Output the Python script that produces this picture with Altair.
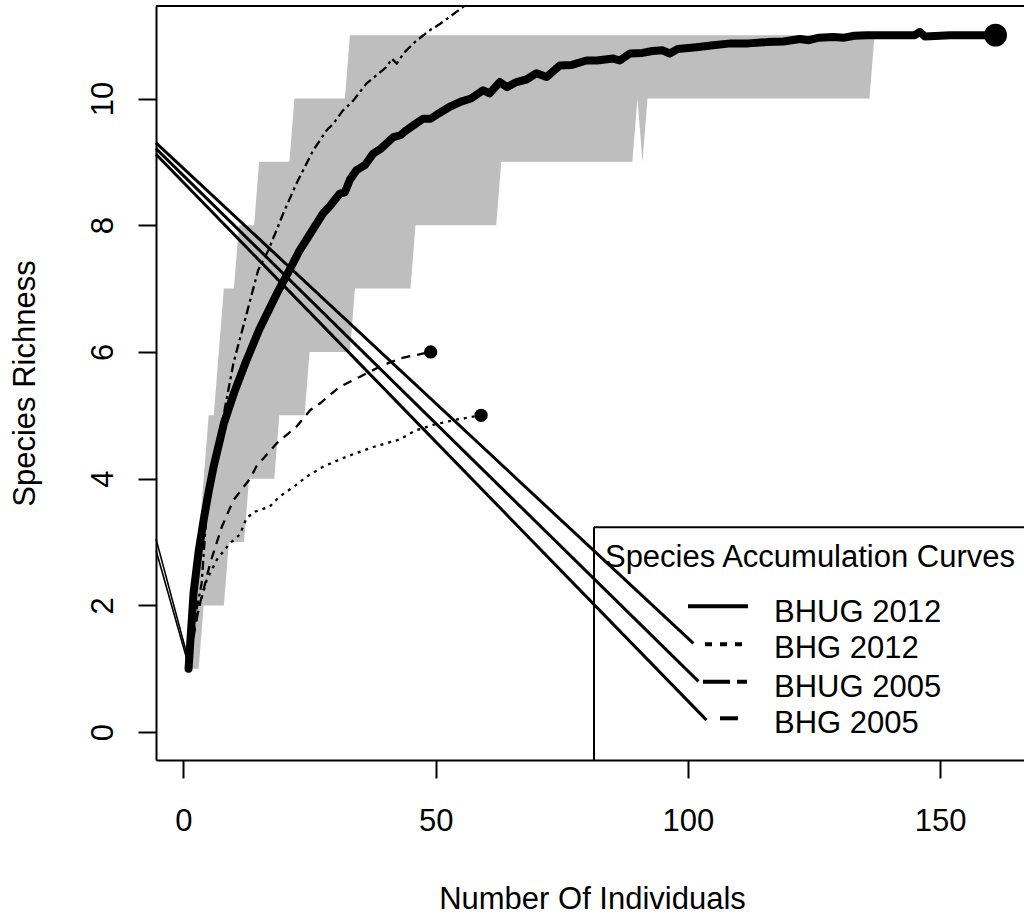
import altair as alt
import pandas as pd

FONT = "Liberation Sans"
FS = 31

# ---------------- data ----------------
series_names = ["BHUG 2012", "BHG 2012", "BHUG 2005", "BHG 2005"]
legend_title = "Species Accumulation Curves"
x_title = "Number Of Individuals"
y_title = "Species Richness"
x_ticks = [0, 50, 100, 150]
y_ticks = [0, 2, 4, 6, 8, 10]

# BHUG 2012 (thick solid) mean accumulation
bhug12_x = [1, 2, 3, 4, 5, 6, 8, 10, 12.5, 15, 18.5, 21, 23, 25, 27.7, 29, 31, 32, 33, 34.3,
            36, 37.6, 39, 41.6, 43, 44.2, 46, 47.5, 49, 50.5, 52.8, 55, 57, 59.4, 60.7, 62.7,
            64.1, 66, 68, 70, 72, 74.6, 77, 79.9, 82, 85.2, 86.5, 88.5, 91, 93, 95, 96.4, 98,
            101.7, 105, 108.5, 112, 115.6, 119, 122.2, 124, 126, 128.8, 131, 133, 135.4, 140,
            145, 146, 147, 152, 161]
bhug12_y = [1, 2.2, 2.85, 3.35, 3.8, 4.2, 4.87, 5.35, 5.87, 6.35, 6.92, 7.29, 7.6, 7.85, 8.19,
            8.3, 8.5, 8.52, 8.72, 8.87, 8.95, 9.13, 9.2, 9.39, 9.42, 9.5, 9.6, 9.68, 9.68, 9.76,
            9.87, 9.95, 10.0, 10.13, 10.08, 10.26, 10.18, 10.26, 10.3, 10.4, 10.34, 10.52, 10.53,
            10.6, 10.6, 10.63, 10.6, 10.71, 10.72, 10.75, 10.76, 10.71, 10.78, 10.81, 10.84,
            10.87, 10.87, 10.89, 10.9, 10.94, 10.92, 10.96, 10.97, 10.96, 10.99, 11.0, 11.0,
            11.0, 11.05, 10.98, 11.0, 11.0]

# BHG 2012 (dotted)
bhg12_x = [1, 2, 3.3, 4.6, 6.6, 9.2, 11.2, 12.5, 14.2, 17.1, 19.1, 21.8, 24.4, 27.7, 32.4,
           37.6, 42.9, 46, 50, 54, 59]
bhg12_y = [1, 1.6, 2.03, 2.4, 2.72, 2.98, 3.12, 3.38, 3.48, 3.56, 3.72, 3.87, 4.03, 4.19,
           4.35, 4.5, 4.62, 4.76, 4.86, 4.93, 5.0]

# BHUG 2005 (two-dash)
bhug05_x = [1, 2, 3, 3.6, 4.6, 5.9, 7.9, 9.9, 11.9, 14.8, 16.8, 19.8, 22.4, 25.7, 28.4, 29.7,
            31.5, 33.7, 36.3, 38, 40.3, 41.3, 42.3, 43.6, 44.2, 46, 48.9, 50.9, 52.8, 55.5,
            58, 61]
bhug05_y = [1, 1.7, 2.1, 2.35, 3.5, 4.24, 4.98, 5.82, 6.42, 7.29, 7.6, 8.19, 8.66, 9.18, 9.5,
            9.6, 9.8, 9.97, 10.24, 10.35, 10.5, 10.63, 10.55, 10.71, 10.76, 10.9, 11.08, 11.18,
            11.29, 11.45, 11.62, 11.8]

# BHG 2005 (dashed)
bhg05_x = [1, 2, 3, 4.3, 5.3, 7.6, 9.9, 13.2, 14.5, 18.5, 22.4, 25.1, 27.1, 31, 35, 39, 43,
           46, 49]
bhg05_y = [1, 1.5, 1.95, 2.35, 2.67, 3.24, 3.66, 4.0, 4.2, 4.56, 4.82, 5.08, 5.19, 5.45,
           5.61, 5.77, 5.9, 5.95, 6.0]

# grey envelope for BHUG 2012
band_x = [1, 2, 3, 4, 5, 6, 7, 8, 9, 10, 11, 12, 13, 14, 15, 18, 19, 21, 22, 24, 25, 32, 33,
          34, 45, 46, 62, 63, 89, 90, 91, 92, 136, 137]
band_upper = [1, 2, 3, 4, 5, 5, 6, 7, 7, 7, 8, 8, 8, 8, 9, 9, 9, 9, 10, 10, 10, 10, 11,
              11, 11, 11, 11, 11, 11, 11, 11, 11, 11, 11]
band_lower = [1, 1, 1, 2, 2, 2, 2, 2, 3, 3, 3, 3, 4, 4, 4, 4, 5, 5, 5, 5, 6, 6, 6,
              7, 7, 8, 8, 9, 9, 10, 9, 10, 10, 11]

# end points of the curves (with markers)
end_x = [161, 59, 49]
end_y = [11, 5, 6]
end_size = [520, 177, 177]

# straight stray segments (data units)
diag_x0 = [-5.45, -5.45, -5.45]
diag_y0 = [9.30, 9.21, 9.12]
diag_x1 = [101.1, 102.1, 103.7]
diag_y1 = [1.40, 0.80, 0.19]
short_x0 = [-5.45, -5.45]
short_y0 = [3.05, 2.87]
short_x1 = [0.6, 0.85]
short_y1 = [1.25, 1.1]

# ---------------- chart ----------------
W, H = 868, 754
xs = alt.Scale(domain=[-5.45, 166.64], nice=False, zero=False)
ys = alt.Scale(domain=[-0.44, 11.46], nice=False, zero=False)

x_axis = alt.Axis(values=x_ticks, grid=False, tickSize=18, tickWidth=2, tickColor="black",
                  domainColor="black", domainWidth=2, labelFont=FONT, labelFontSize=FS,
                  labelColor="black", labelPadding=52, labelBaseline="alphabetic",
                  labelFlush=False, labelOverlap=False,
                  title=x_title, titleFont=FONT, titleFontSize=FS, titleFontWeight="normal",
                  titleColor="black", titleX=436, titleY=148, titleBaseline="alphabetic",
                  titleAlign="center")
y_axis = alt.Axis(values=y_ticks, grid=False, tickSize=18, tickWidth=2, tickColor="black",
                  domainColor="black", domainWidth=2, labelFont=FONT, labelFontSize=FS,
                  labelColor="black", labelPadding=26, labelAngle=270, labelAlign="center",
                  labelBaseline="alphabetic", labelFlush=False, labelOverlap=False,
                  title=y_title, titleFont=FONT, titleFontSize=FS, titleFontWeight="normal",
                  titleColor="black", titleX=-122, titleY=377, titleAngle=270,
                  titleBaseline="alphabetic", titleAlign="center")

def X(f):
    return alt.X(f, scale=xs, axis=x_axis)

def Y(f):
    return alt.Y(f, scale=ys, axis=y_axis)

band_df = pd.DataFrame({"x": band_x, "upper": band_upper, "lower": band_lower})
band = alt.Chart(band_df).mark_area(color="#BEBEBE", opacity=1, clip=True).encode(
    x=X("x:Q"), y=Y("upper:Q"), y2="lower:Q")

def seg_layer(x0, y0, x1, y1, width):
    df = pd.DataFrame({"x0": x0, "y0": y0, "x1": x1, "y1": y1})
    return alt.Chart(df).mark_rule(color="black", strokeWidth=width).encode(
        x=X("x0:Q"), y=Y("y0:Q"), x2="x1:Q", y2="y1:Q")

diag = seg_layer(diag_x0, diag_y0, diag_x1, diag_y1, 3)
short = seg_layer(short_x0, short_y0, short_x1, short_y1, 1.6)

def curve(xv, yv, width, dash=None):
    df = pd.DataFrame({"x": xv, "y": yv})
    kw = dict(color="black", strokeWidth=width, clip=True, strokeJoin="round", strokeCap="butt")
    if dash is not None:
        kw["strokeDash"] = dash
    else:
        kw["strokeCap"] = "round"
    return alt.Chart(df).mark_line(**kw).encode(x=X("x:Q"), y=Y("y:Q"))

c_bhg12 = curve(bhg12_x, bhg12_y, 2.3, [3, 5])
c_bhg05 = curve(bhg05_x, bhg05_y, 2.3, [9, 7])
c_bhug05 = curve(bhug05_x, bhug05_y, 2.3, [9, 4, 3, 4])
c_bhug12 = curve(bhug12_x, bhug12_y, 8)

ends_df = pd.DataFrame({"x": end_x, "y": end_y, "s": end_size})
ends = alt.Chart(ends_df).mark_point(filled=True, shape="circle", color="black", opacity=1).encode(
    x=X("x:Q"), y=Y("y:Q"), size=alt.Size("s:Q", scale=None, legend=None))

# ---- frame top + legend (pixel layout) ----
one = pd.DataFrame({"a": [0]})
top_border = alt.Chart(one).mark_rule(color="black", strokeWidth=2).encode(
    x=alt.value(0), x2=alt.value(W), y=alt.value(0))
lg_top = alt.Chart(one).mark_rule(color="black", strokeWidth=2).encode(
    x=alt.value(438), x2=alt.value(W), y=alt.value(521.3))
lg_left = alt.Chart(one).mark_rule(color="black", strokeWidth=2).encode(
    x=alt.value(438), y=alt.value(521.3), y2=alt.value(H))

def key(x0, x1, y, dash=None):
    kw = dict(color="black", strokeWidth=4)
    if dash is not None:
        kw["strokeDash"] = dash
    return alt.Chart(one).mark_rule(**kw).encode(x=alt.value(x0), x2=alt.value(x1), y=alt.value(y))

k1 = key(532, 592, 600.3)
k2 = key(549, 589, 638.3, [7, 8])
k3 = key(547, 591, 675.7, [27, 7, 10, 10])
k4 = key(564, 582, 712.3)

lg_df = pd.DataFrame({"name": series_names, "ty": [615.7, 652.3, 690.7, 727.3]})
lg_text = alt.Chart(lg_df).mark_text(align="left", baseline="alphabetic", font=FONT,
                                     fontSize=FS, color="black").encode(
    x=alt.value(618), y=alt.Y("ty:Q", scale=None), text="name:N")
lg_title = alt.Chart(pd.DataFrame({"t": [legend_title]})).mark_text(
    align="center", baseline="alphabetic", font=FONT, fontSize=FS, color="black").encode(
    x=alt.value(654), y=alt.value(560.7), text="t:N")

chart = alt.layer(
    band, diag, short, c_bhg12, c_bhg05, c_bhug05, c_bhug12, ends,
    top_border, lg_top, lg_left, k1, k2, k3, k4, lg_text, lg_title
).properties(
    width=W, height=H,
    padding={"left": 156, "top": 6, "right": 0, "bottom": 155},
    autosize=alt.AutoSizeParams(type="none"),
    background="white",
).configure_view(stroke=None)

chart.save("out.html", embed_options={"renderer": "svg", "actions": False})
